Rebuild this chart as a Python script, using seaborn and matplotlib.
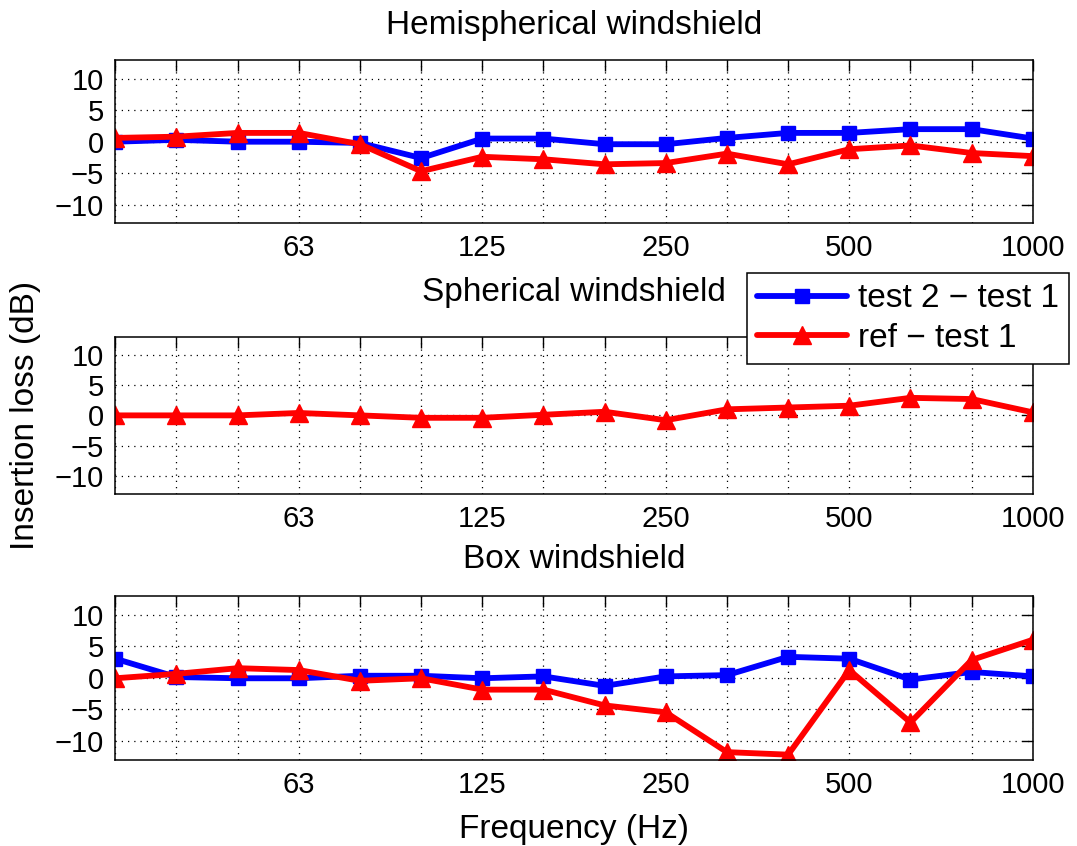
import numpy as np
import pandas as pd
import seaborn as sns
import matplotlib
matplotlib.use("Agg")
import matplotlib.pyplot as plt
from matplotlib.lines import Line2D

# One-third octave band centre frequencies (Hz)
bands = ["31.5", "40", "50", "63", "80", "100", "125", "160", "200", "250",
         "315", "400", "500", "630", "800", "1000"]
labelled_bands = ["63", "125", "250", "500", "1000"]

# Insertion loss (dB) per windshield
hemi_test2 = [0.0, 0.3, 0.0, 0.0, -0.2, -2.6, 0.5, 0.5, -0.4, -0.4, 0.6, 1.4, 1.4, 2.0, 2.0, 0.5]
hemi_ref = [0.6, 0.8, 1.4, 1.4, -0.4, -4.7, -2.4, -2.8, -3.6, -3.4, -1.9, -3.6, -1.2, -0.6, -1.8, -2.3]

sph_ref = [0.0, 0.0, 0.0, 0.4, 0.0, -0.4, -0.4, 0.1, 0.6, -0.8, 1.0, 1.3, 1.6, 2.9, 2.7, 0.5]

box_test2 = [3.0, 0.1, -0.1, -0.1, 0.3, 0.3, -0.1, 0.2, -1.3, 0.2, 0.4, 3.3, 3.0, -0.3, 0.9, 0.2]
box_ref = [-0.1, 0.6, 1.5, 1.2, -0.5, -0.1, -1.9, -1.9, -4.4, -5.5, -11.8, -12.2, 1.2, -7.1, 2.8, 6.0]

titles = ["Hemispherical windshield", "Spherical windshield", "Box windshield"]
title_pads = [19, 26, 20]
series_names = ["test 2 \u2212 test 1", "ref \u2212 test 1"]

sns.set_style("white")
plt.rcParams["font.family"] = ["Liberation Sans", "DejaVu Sans"]
plt.rcParams["text.color"] = "black"
plt.rcParams["axes.labelcolor"] = "black"
TICK_FS = 21
LABEL_FS = 24

fig = plt.figure(figsize=(10.77, 8.46), dpi=100)
left, right = 0.107, 0.959
axes_boxes = [(0.736, 0.929), (0.416, 0.602), (0.102, 0.296)]
axes = [fig.add_axes([left, b, right - left, t - b]) for b, t in axes_boxes]

blue_style = dict(color="#0000ff", marker="s", markersize=10.5, markeredgecolor="#0000ff",
                  markeredgewidth=1, linewidth=4.2)
red_style = dict(color="#ff0000", marker="^", markersize=12.5, markeredgecolor="#ff0000",
                 markeredgewidth=1, linewidth=4.2)

panels = [
    (hemi_test2, hemi_ref),
    (None, sph_ref),
    (box_test2, box_ref),
]

x_idx = np.arange(len(bands))
for ax, title, pad, (blue_vals, red_vals) in zip(axes, titles, title_pads, panels):
    if blue_vals is not None:
        df_b = pd.DataFrame({"band": x_idx, "il": blue_vals})
        sns.lineplot(data=df_b, x="band", y="il", ax=ax, legend=False, **blue_style)
    df_r = pd.DataFrame({"band": x_idx, "il": red_vals})
    sns.lineplot(data=df_r, x="band", y="il", ax=ax, legend=False, **red_style)

    ax.set_xlim(0, len(bands) - 1)
    ax.set_ylim(-13, 13)
    ax.set_xticks(x_idx)
    ax.set_xticklabels([b if b in labelled_bands else "" for b in bands])
    ax.set_yticks([-10, -5, 0, 5, 10])
    ax.set_yticklabels(["\u221210", "\u22125", "0", "5", "10"])
    ax.tick_params(direction="in", length=8, width=1, top=True, right=True,
                   labelsize=TICK_FS, colors="black", pad=8)
    ax.grid(True, color="black", linestyle=(0, (1, 4)), linewidth=0.9)
    for sp in ax.spines.values():
        sp.set_color("black")
        sp.set_linewidth(1.1)
    ax.set_xlabel("")
    ax.set_ylabel("")
    ax.set_title(title, fontsize=LABEL_FS, pad=pad, color="black")
    ax.set_axisbelow(True)

axes[2].set_xlabel("Frequency (Hz)", fontsize=LABEL_FS, labelpad=11)
fig.text(0.024, 0.509, "Insertion loss (dB)", rotation=90, fontsize=LABEL_FS,
         ha="center", va="center")

handles = [Line2D([], [], **blue_style), Line2D([], [], **red_style)]
leg = fig.legend(handles, series_names, loc="center",
                 bbox_to_anchor=(0.692, 0.563, 0.302, 0.121),
                 fontsize=LABEL_FS, frameon=True, fancybox=False, framealpha=1,
                 handlelength=2.7, handletextpad=0.35, borderpad=0.3,
                 labelspacing=0.25, borderaxespad=0)
leg.get_frame().set_edgecolor("black")
leg.get_frame().set_linewidth(1.1)

fig.savefig("out.png", dpi=100)
